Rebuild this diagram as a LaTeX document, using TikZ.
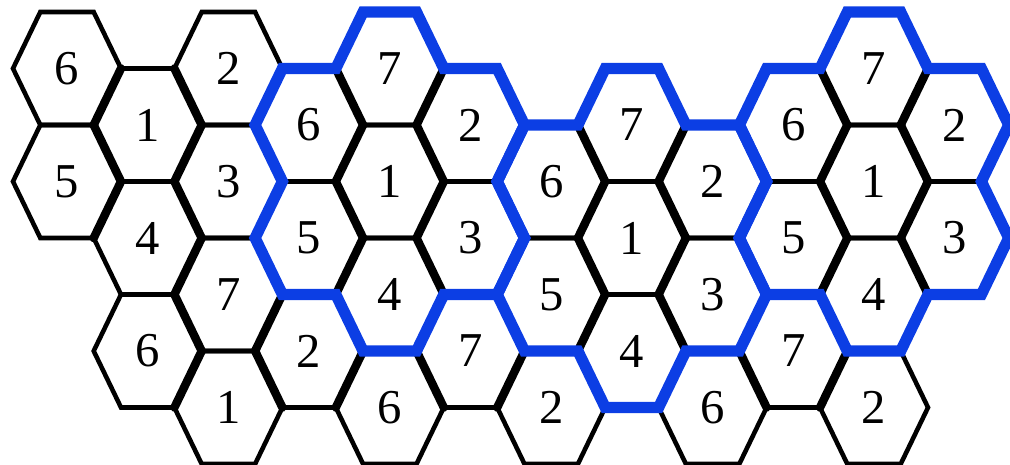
\documentclass[tikz,border=0pt]{standalone}
\usepackage{fontspec}
\setmainfont{Liberation Serif}
\definecolor{flowerblue}{RGB}{12,62,228}
\tikzset{
  cell/.style={inner sep=0pt, font=\fontsize{27.7}{30}\selectfont},
  hexline/.style={black, line width=2.6pt, line join=miter},
  thickedge/.style={black, line width=4.8pt, line cap=round},
  flower/.style={flowerblue, line width=6.4pt, line join=miter},
}
\begin{document}
\begin{tikzpicture}[x=0.02cm, y=-0.02cm]
   \useasboundingbox (0,0) rectangle (1010,465);
   \clip (0,0) rectangle (1010,465);

   % cells: column/row/label
   \foreach \c/\k/\lab in {0/0/6, 0/2/5, 1/1/1, 1/3/4, 1/5/6, 2/0/2, 2/2/3, 2/4/7, 2/6/1,
                          3/1/6, 3/3/5, 3/5/2, 4/0/7, 4/2/1, 4/4/4, 4/6/6, 5/1/2, 5/3/3, 5/5/7,
                          6/2/6, 6/4/5, 6/6/2, 7/1/7, 7/3/1, 7/5/4, 8/2/2, 8/4/3, 8/6/6,
                          9/1/6, 9/3/5, 9/5/7, 10/0/7, 10/2/1, 10/4/4, 10/6/2, 11/1/2, 11/3/3} {
      \node[cell] (h\c-\k) at ({67+80.7*\c},{68.5+56.5*\k}) {\lab};
      \draw[hexline] (h\c-\k.center) +(-26.7,-56.5) -- +(26.7,-56.5) -- +(54,0)
                     -- +(26.7,56.5) -- +(-26.7,56.5) -- +(-54,0) -- cycle;
   }

   % shared slanted edges
   \foreach \c/\k in {0/2, 1/1, 1/3, 1/5, 2/2, 2/4, 2/6, 3/1, 3/3, 3/5, 4/2, 4/4, 4/6, 5/3, 5/5,
                      6/2, 6/4, 6/6, 7/3, 7/5, 8/2, 8/4, 8/6, 9/1, 9/3, 9/5, 10/2, 10/4}
      \draw[thickedge] (h\c-\k.center) +(26.7,-56.5) -- +(54,0);
   \foreach \c/\k in {0/0, 0/2, 1/1, 1/3, 1/5, 2/0, 2/2, 2/4, 3/1, 3/3, 3/5, 4/0, 4/2, 4/4, 5/1,
                      5/3, 5/5, 6/2, 6/4, 7/1, 7/3, 7/5, 8/2, 8/4, 9/1, 9/3, 9/5, 10/0, 10/2}
      \draw[thickedge] (h\c-\k.center) +(54,0) -- +(26.7,56.5);

   % flowers round the three 1s
   \foreach \m in {h4-2, h7-3, h10-2}
      \draw[flower] (\m.center) +(-26.7,-169.5) -- +(26.7,-169.5) -- +(54,-113) -- +(107.4,-113)
          -- +(134.7,-56.5) -- +(107.4,0) -- +(134.7,56.5) -- +(107.4,113) -- +(54,113)
          -- +(26.7,169.5) -- +(-26.7,169.5) -- +(-54,113) -- +(-107.4,113) -- +(-134.7,56.5)
          -- +(-107.4,0) -- +(-134.7,-56.5) -- +(-107.4,-113) -- +(-54,-113) -- cycle;
\end{tikzpicture}
\end{document}
